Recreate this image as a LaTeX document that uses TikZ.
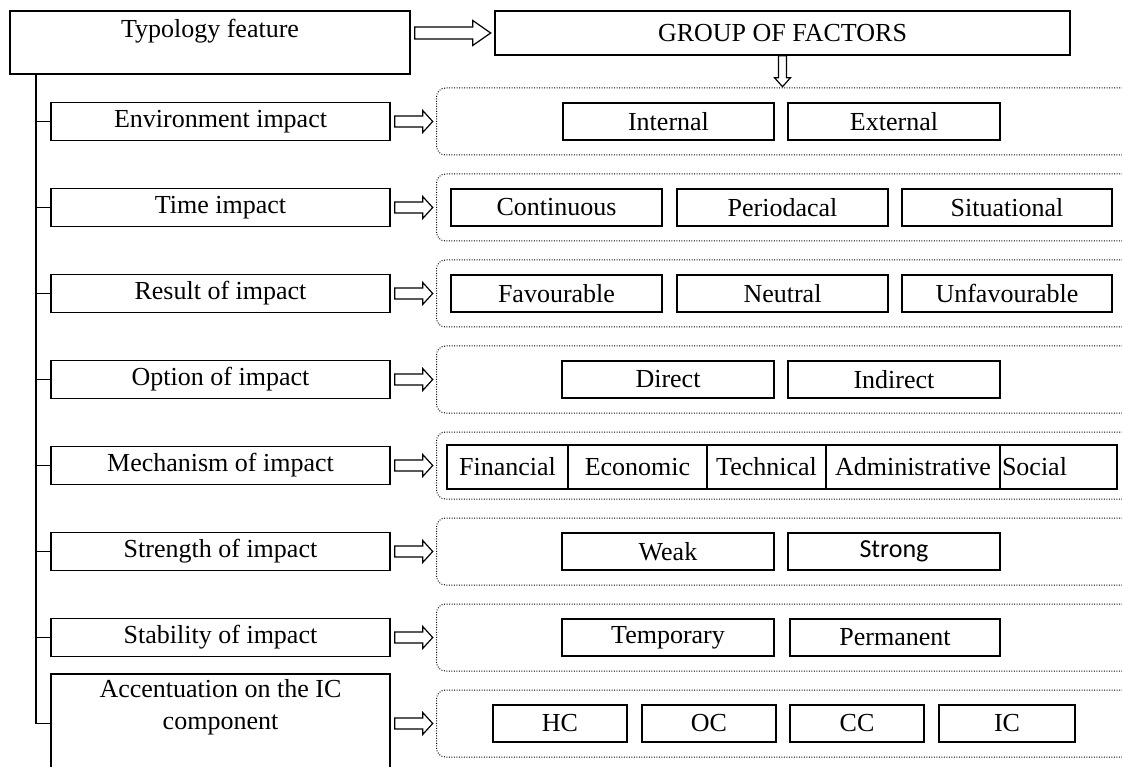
\documentclass[tikz,border=0pt]{standalone}
\usepackage{fontspec}
\setmainfont{Liberation Serif}
\newfontfamily\strongfont{Carlito}
\usetikzlibrary{calc}
\newcommand{\harr}[5]{% start, length, shaft half, head half, head length
  \begin{scope}[shift={(#1)}]
    \draw[barrow] (0,-#3) -- (#2-#5,-#3) -- (#2-#5,-#4) -- (#2,0) -- (#2-#5,#4) -- (#2-#5,#3) -- (0,#3) -- cycle;
  \end{scope}}
\begin{document}
\begin{tikzpicture}[x=1pt,y=-1pt,
  every node/.style={font=\fontsize{26}{32}\selectfont},
  solidbox/.style={draw, line width=1.4pt, inner sep=0pt, anchor=center},
  itembox/.style={solidbox, minimum width=339pt, minimum height=38pt},
  subbox/.style={solidbox, minimum height=37pt},
  mechbox/.style={solidbox, minimum height=44pt},
  dotbox/.style={draw, line width=1pt, dash pattern=on 0.9pt off 1.6pt, rounded corners=9pt, minimum width=700pt, minimum height=67pt, anchor=west, inner sep=0pt},
  barrow/.style={draw, line width=1.2pt, fill=white, line join=miter},
  trunkline/.style={line width=1.6pt}
]
\fill[white] (0,0) rectangle (1122,767);
\clip (0,0) rectangle (1122,767);

% top boxes
\node[solidbox, minimum width=400pt, minimum height=63pt] (typ) at (210,42.5) {};
\node (typlbl) at (210,31) {Typology feature};
\node[solidbox, minimum width=575pt, minimum height=44pt] (grp) at (782.5,33) {GROUP OF FACTORS};

% dotted group boxes
\foreach \i/\c in {0/121.5,1/207.5,2/293.5,3/379.5,4/465.5,5/551.5,6/637.5,7/723.5}{
  \node[dotbox] (d\i) at (436,\c) {};
}

% item boxes
\node[itembox] (e0) at (220.5,121.5) {Environment impact};
\node[itembox] (e1) at (220.5,207.5) {Time impact};
\node[itembox] (e2) at (220.5,293.5) {Result of impact};
\node[itembox] (e3) at (220.5,379.5) {Option of impact};
\node[itembox] (e4) at (220.5,465.5) {Mechanism of impact};
\node[itembox] (e5) at (220.5,551.5) {Strength of impact};
\node[itembox] (e6) at (220.5,637.5) {Stability of impact};
\node[solidbox, minimum width=339pt, minimum height=120pt] (e7) at (220.5,734) {};
\node[align=center] (e7lbl) at (220.5,707) {Accentuation on the IC\\component};
\coordinate (r7) at (51,723.5);

% trunk and branches
\coordinate (trunk) at (36,74);
\draw[trunkline] (trunk) -- (trunk |- r7) -- (r7);
\foreach \i in {0,...,6}{
  \draw[trunkline] (trunk |- e\i.west) -- (e\i.west);
}

% arrows
\harr{$(typ.east |- grp.west)+(4,0)$}{76}{6}{12.5}{18}
\foreach \i in {0,...,6}{
  \harr{$(e\i.east)+(4,0)$}{38}{5.5}{11}{10}
}
\harr{$(e7.east |- r7)+(4,0)$}{38}{5.5}{11}{10}
\begin{scope}[shift={(grp.south)}]
  \draw[barrow] (-4,0) -- (-4,22) -- (-8,22) -- (0,31) -- (8,22) -- (4,22) -- (4,0) -- cycle;
\end{scope}

% row 0
\node[subbox, minimum width=211pt] (internal) at (668.5,121.5) {Internal};
\node[subbox, minimum width=212pt] (external) at (894,121.5) {External};
% row 1
\node[subbox, minimum width=211pt] (cont) at (556.5,207.5) {Continuous};
\node[subbox, minimum width=211pt] (peri) at (782.5,207.5) {Periodacal};
\node[subbox, minimum width=210pt] (situ) at (1007,207.5) {Situational};
% row 2
\node[subbox, minimum width=211pt] (fav) at (556.5,293.5) {Favourable};
\node[subbox, minimum width=211pt] (neu) at (782.5,293.5) {Neutral};
\node[subbox, minimum width=210pt] (unf) at (1007,293.5) {Unfavourable};
% row 3
\node[subbox, minimum width=212pt] (direct) at (668,379.5) {Direct};
\node[subbox, minimum width=212pt] (indirect) at (894,379.5) {Indirect};
% row 4
\node[mechbox, minimum width=121pt] (fin) at (507.5,467) {Financial};
\node[mechbox, minimum width=139pt] (eco) at (637.5,467) {Economic};
\node[mechbox, minimum width=119pt] (tec) at (766.5,467) {Technical};
\node[mechbox, minimum width=174pt] (adm) at (913,467) {Administrative};
\node[mechbox, minimum width=117pt, text width=113pt, inner xsep=2pt, align=left] (soc) at (1058.5,467) {Social};
% row 5
\node[subbox, minimum width=212pt] (weak) at (668,551.5) {Weak};
\node[subbox, minimum width=212pt, font=\strongfont\fontsize{26}{32}\selectfont] (strong) at (894,551.5) {Strong};
% row 6
\node[subbox, minimum width=212pt] (temp) at (668,637.5) {Temporary};
\node[subbox, minimum width=210pt] (perm) at (895,637.5) {Permanent};
% row 7
\node[subbox, minimum width=134pt] (hc) at (560,723.5) {HC};
\node[subbox, minimum width=134pt] (oc) at (709,723.5) {OC};
\node[subbox, minimum width=134pt] (cc) at (857,723.5) {CC};
\node[subbox, minimum width=136pt] (ic) at (1007,723.5) {IC};
\end{tikzpicture}
\end{document}
